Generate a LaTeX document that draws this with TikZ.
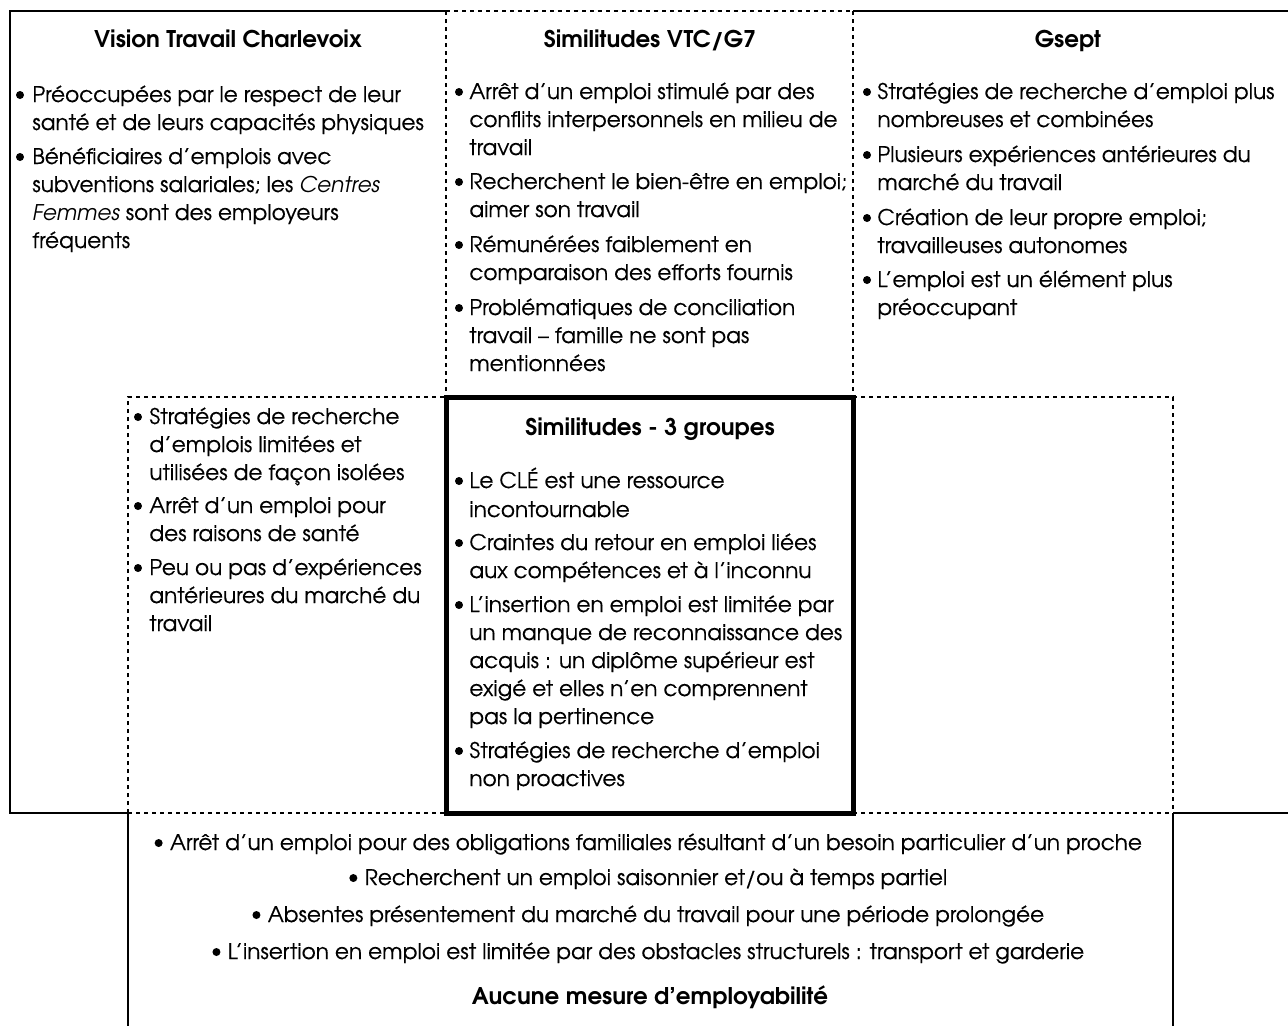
\documentclass[tikz,border=0pt]{standalone}
\usepackage{fontspec}
\setmainfont{texgyreadventor}[Extension=.otf, UprightFont=*-regular, BoldFont=*-bold, ItalicFont=*-italic, BoldItalicFont=*-bolditalic, UprightFeatures={FakeBold=0.3}]
\begin{document}
\begin{tikzpicture}[x=0.5pt,y=-0.5pt,
  edge/.style={line width=1pt},
  dline/.style={line width=1pt, dash pattern=on 2pt off 2pt},
  thickbox/.style={line width=2.5pt},
  txt/.style={anchor=base west, inner sep=0pt, font=\fontsize{10.8}{13}\selectfont},
  ctr/.style={anchor=base, inner sep=0pt, font=\fontsize{10.8}{13}\selectfont},
  head/.style={anchor=base, inner sep=0pt, font=\fontsize{11.5}{13}\selectfont\bfseries},
  bul/.style={fill, circle, inner sep=0pt, minimum size=4pt}
]
\useasboundingbox (0,0) rectangle (1288,1025);

% ---- frame lines
\draw[edge] (446,11) -- (10,11) -- (10,813) -- (128,813);
\draw[edge] (853,11) -- (1292,11);
\draw[edge] (1173,813) -- (1292,813);
\draw[edge] (128,813) -- (128,1030);
\draw[edge] (1173,813) -- (1173,1030);
\draw[dline] (446,11) -- (853,11);
\draw[dline] (446,11) -- (446,397);
\draw[dline] (853,11) -- (853,397);
\draw[dline] (128,813) -- (128,397) -- (446,397);
\draw[dline] (853,397) -- (1173,397) -- (1173,813);
\draw[dline] (128,813) -- (446,813);
\draw[dline] (853,813) -- (1173,813);
\draw[thickbox] (446,397) rectangle (853,813);

% ---- headings
\node[head] (h-vtc) at (228,47) {Vision Travail Charlevoix};
\node[head] (h-sim) at (650,47) {Similitudes VTC/G7};
\node[head] (h-gs) at (1068,47) {Gsept};
\node[head] (h-3g) at (650,435) {Similitudes - 3 groupes};

% ---- VTC
\foreach \y/\b/\t [count=\i] in {
  102/1/{Préoccupées par le respect de leur},
  130/0/{santé et de leurs capacités physiques},
  164/1/{Bénéficiaires d’emplois avec},
  192/0/{subventions salariales; les \textit{Centres}},
  220/0/{\textit{Femmes} sont des employeurs},
  248/0/{fréquents}}{
  \node[txt] (vtc-\i) at (32,\y) {\t};
  \ifnum\b=1 \node[bul] (vtcb-\i) at (20,\y-7) {};\fi
}

% ---- Similitudes VTC/G7
\foreach \y/\b/\t [count=\i] in {
  99/1/{Arrêt d’un emploi stimulé par des},
  127/0/{conflits interpersonnels en milieu de},
  155/0/{travail},
  189/1/{Recherchent le bien-être en emploi;},
  217/0/{aimer son travail},
  252/1/{Rémunérées faiblement en},
  280/0/{comparaison des efforts fournis},
  315/1/{Problématiques de conciliation},
  343/0/{travail – famille ne sont pas},
  371/0/{mentionnées}}{
  \node[txt] (sim-\i) at (469,\y) {\t};
  \ifnum\b=1 \node[bul] (simb-\i) at (459,\y-7) {};\fi
}

% ---- Gsept
\foreach \y/\b/\t [count=\i] in {
  99/1/{Stratégies de recherche d’emploi plus},
  127/0/{nombreuses et combinées},
  162/1/{Plusieurs expériences antérieures du},
  190/0/{marché du travail},
  225/1/{Création de leur propre emploi;},
  253/0/{travailleuses autonomes},
  287/1/{L’emploi est un élément plus},
  315/0/{préoccupant}}{
  \node[txt] (gs-\i) at (877,\y) {\t};
  \ifnum\b=1 \node[bul] (gsb-\i) at (867,\y-7) {};\fi
}

% ---- VTC & third group
\foreach \y/\b/\t [count=\i] in {
  424/1/{Stratégies de recherche},
  452/0/{d’emplois limitées et},
  480/0/{utilisées de façon isolées},
  513/1/{Arrêt d’un emploi pour},
  541/0/{des raisons de santé},
  575/1/{Peu ou pas d’expériences},
  603/0/{antérieures du marché du},
  631/0/{travail}}{
  \node[txt] (ll-\i) at (149,\y) {\t};
  \ifnum\b=1 \node[bul] (llb-\i) at (138,\y-7) {};\fi
}

% ---- three groups
\foreach \y/\b/\t [count=\i] in {
  488/1/{Le CLÉ est une ressource},
  517/0/{incontournable},
  550/1/{Craintes du retour en emploi liées},
  578/0/{aux compétences et à l’inconnu},
  612/1/{L’insertion en emploi est limitée par},
  640/0/{un manque de reconnaissance des},
  668/0/{acquis : un diplôme supérieur est},
  696/0/{exigé et elles n’en comprennent},
  724/0/{pas la pertinence},
  758/1/{Stratégies de recherche d’emploi},
  786/0/{non proactives}}{
  \node[txt] (tg-\i) at (469,\y) {\t};
  \ifnum\b=1 \node[bul] (tgb-\i) at (459,\y-7) {};\fi
}

% ---- bottom
\foreach \y/\t [count=\i] in {
  850/{Arrêt d’un emploi pour des obligations familiales résultant d’un besoin particulier d’un proche},
  885/{Recherchent un emploi saisonnier et/ou à temps partiel},
  922/{Absentes présentement du marché du travail pour une période prolongée},
  959/{L’insertion en emploi est limitée par des obstacles structurels : transport et garderie}}{
  \node[ctr] (bt-\i) at (656,\y) {\t};
  \node[bul] (btb-\i) at ([xshift=-5.5pt,yshift=3.5pt]bt-\i.base west) {};
}
\node[head] (bt-5) at (650,1004) {Aucune mesure d’employabilité};
\end{tikzpicture}
\end{document}
